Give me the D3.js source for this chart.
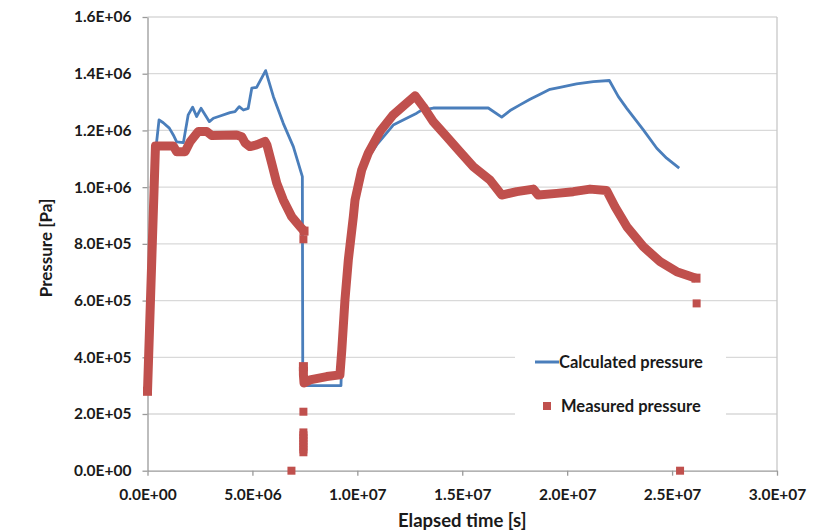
<!DOCTYPE html>
<html>
<head>
<meta charset="utf-8">
<script src="https://cdn.jsdelivr.net/npm/d3@7"></script>
<style>
  html, body { margin: 0; padding: 0; background: #ffffff; }
  svg { display: block; }
  text { font-family: Lato, "Liberation Sans", sans-serif; font-weight: bold; fill: #1a1a1a; }
</style>
</head>
<body>
<svg id="chart" width="814" height="531"></svg>
<script>
// ---- Data (time in seconds, pressure in Pa) ----
const calcTime = [0, 0.41e6, 0.55e6, 0.75e6, 1.04e6, 1.23e6, 1.39e6, 1.71e6, 1.94e6, 2.15e6, 2.34e6, 2.55e6, 2.95e6, 3.14e6, 3.46e6, 3.93e6, 4.17e6, 4.37e6, 4.57e6, 4.80e6, 4.97e6, 5.20e6, 5.63e6, 6.00e6, 6.47e6, 6.95e6, 7.38e6, 7.40e6, 9.22e6, 9.27e6, 9.41e6, 9.57e6, 9.81e6, 10.13e6, 10.51e6, 10.92e6, 11.71e6, 12.35e6, 12.83e6, 13.07e6, 13.62e6, 16.24e6, 16.88e6, 17.28e6, 17.75e6, 18.23e6, 18.71e6, 19.18e6, 19.66e6, 20.45e6, 21.25e6, 22.01e6, 22.44e6, 22.84e6, 23.63e6, 24.27e6, 24.74e6, 25.34e6];
const calcPressure = [2.80e5, 11.43e5, 12.37e5, 12.27e5, 12.08e5, 11.84e5, 11.60e5, 11.57e5, 12.55e5, 12.82e5, 12.49e5, 12.78e5, 12.31e5, 12.43e5, 12.51e5, 12.63e5, 12.66e5, 12.84e5, 12.72e5, 12.78e5, 13.49e5, 13.52e5, 14.11e5, 13.19e5, 12.25e5, 11.43e5, 10.37e5, 3.00e5, 3.00e5, 4.26e5, 6.02e5, 7.43e5, 8.96e5, 10.14e5, 11.03e5, 11.49e5, 12.19e5, 12.43e5, 12.61e5, 12.72e5, 12.79e5, 12.79e5, 12.47e5, 12.70e5, 12.90e5, 13.10e5, 13.28e5, 13.45e5, 13.52e5, 13.64e5, 13.72e5, 13.76e5, 13.19e5, 12.78e5, 12.02e5, 11.37e5, 11.02e5, 10.67e5];

// Measured pressure: first continuous run
const measTimeA = [0, 0.38e6, 1.23e6, 1.39e6, 1.79e6, 2.03e6, 2.42e6, 2.82e6, 3.06e6, 4.25e6, 4.49e6, 4.65e6, 4.88e6, 5.20e6, 5.60e6, 5.69e6, 5.92e6, 6.16e6, 6.47e6, 6.87e6, 7.27e6, 7.46e6];
const measPressureA = [2.80e5, 11.45e5, 11.45e5, 11.25e5, 11.25e5, 11.60e5, 11.96e5, 11.96e5, 11.82e5, 11.84e5, 11.78e5, 11.56e5, 11.43e5, 11.49e5, 11.61e5, 11.49e5, 10.84e5, 10.14e5, 9.55e5, 8.96e5, 8.61e5, 8.45e5];
// Measured pressure: second continuous run
const measTimeB = [7.43e6, 7.43e6, 7.46e6, 7.74e6, 8.54e6, 9.17e6, 9.26e6, 9.41e6, 9.57e6, 9.81e6, 9.89e6, 10.21e6, 10.52e6, 11.08e6, 11.71e6, 12.35e6, 12.75e6, 13.14e6, 13.62e6, 14.26e6, 14.89e6, 15.53e6, 16.32e6, 16.88e6, 17.60e6, 18.39e6, 18.62e6, 19.50e6, 20.29e6, 21.09e6, 21.88e6, 22.28e6, 22.84e6, 23.63e6, 24.43e6, 25.22e6, 26.14e6];
const measPressureB = [3.67e5, 3.38e5, 3.09e5, 3.20e5, 3.32e5, 3.38e5, 4.26e5, 6.02e5, 7.43e5, 8.96e5, 9.55e5, 10.61e5, 11.20e5, 11.96e5, 12.55e5, 12.96e5, 13.22e5, 12.84e5, 12.31e5, 11.78e5, 11.25e5, 10.72e5, 10.25e5, 9.72e5, 9.84e5, 9.93e5, 9.72e5, 9.78e5, 9.84e5, 9.93e5, 9.88e5, 9.31e5, 8.61e5, 7.90e5, 7.37e5, 7.02e5, 6.79e5];
// Measured pressure: isolated points
const measTimeIso = [7.43e6, 6.86e6, 7.43e6, 7.43e6, 7.43e6, 7.43e6, 7.43e6, 7.43e6, 7.43e6, 7.43e6, 7.43e6, 25.38e6, 26.17e6];
const measPressureIso = [8.16e5, 0, 2.08e5, 1.35e5, 1.25e5, 1.15e5, 1.05e5, 0.95e5, 0.85e5, 0.75e5, 0.65e5, 0, 5.90e5];

const xTicks = [0, 5e6, 10e6, 15e6, 20e6, 25e6, 30e6];
const xTickLabels = ["0.0E+00", "5.0E+06", "1.0E+07", "1.5E+07", "2.0E+07", "2.5E+07", "3.0E+07"];
const yTicks = [0, 2e5, 4e5, 6e5, 8e5, 10e5, 12e5, 14e5, 16e5];
const yTickLabels = ["0.0E+00", "2.0E+05", "4.0E+05", "6.0E+05", "8.0E+05", "1.0E+06", "1.2E+06", "1.4E+06", "1.6E+06"];
const seriesNames = ["Calculated pressure", "Measured pressure"];
const axisTitles = { x: "Elapsed time [s]", y: "Pressure [Pa]" };

// ---- Layout ----
const plot = { left: 147.5, right: 777, top: 17, bottom: 470.7 };
const blue = "#4A7EBB", red = "#C0504D";
const FONT = "Lato, 'Liberation Sans', sans-serif";

const svg = d3.select("#chart");
const x = d3.scaleLinear().domain([0, 3e7]).range([plot.left, plot.right]);
const y = d3.scaleLinear().domain([0, 1.6e6]).range([plot.bottom, plot.top]);

// gridlines
svg.append("g").selectAll("line").data(yTicks.slice(1)).join("line")
  .attr("x1", plot.left).attr("x2", plot.right)
  .attr("y1", d => y(d)).attr("y2", d => y(d))
  .attr("stroke", "#d9d9d9").attr("stroke-width", 1.3);
// right border
svg.append("line").attr("x1", plot.right).attr("x2", plot.right)
  .attr("y1", plot.top).attr("y2", plot.bottom)
  .attr("stroke", "#c8c8c8").attr("stroke-width", 1.3);

// Axes
const xAxis = d3.axisBottom(x).tickValues(xTicks).tickSize(5).tickSizeOuter(0)
  .tickFormat((d, i) => xTickLabels[i]);
const gx = svg.append("g").attr("transform", `translate(0,${plot.bottom})`).call(xAxis);
gx.select(".domain").attr("stroke", "#9a9a9a").attr("stroke-width", 1.3);
gx.selectAll(".tick line").attr("stroke", "#9a9a9a").attr("stroke-width", 1.3);
gx.selectAll(".tick text").attr("dy", null).attr("y", 29)
  .style("font-family", FONT).style("font-weight", "bold")
  .style("font-size", "15.5px").attr("fill", "#1a1a1a");

const yAxis = d3.axisLeft(y).tickValues(yTicks).tickSize(5).tickSizeOuter(0)
  .tickFormat((d, i) => yTickLabels[i]);
const gy = svg.append("g").attr("transform", `translate(${plot.left},0)`).call(yAxis);
gy.select(".domain").attr("stroke", "#9a9a9a").attr("stroke-width", 1.3);
gy.selectAll(".tick line").attr("stroke", "#9a9a9a").attr("stroke-width", 1.3);
gy.selectAll(".tick text").attr("x", -16)
  .style("font-family", FONT).style("font-weight", "bold")
  .style("font-size", "15.5px").attr("fill", "#1a1a1a");

// Axis titles
svg.append("text").attr("x", (plot.left + plot.right) / 2).attr("y", 526.5)
  .attr("text-anchor", "middle").style("font-size", "18.5px").text(axisTitles.x);
svg.append("text").attr("transform", `translate(52,248) rotate(-90)`)
  .attr("text-anchor", "middle").style("font-size", "17px").text(axisTitles.y);

// ---- Series ----
const line = d3.line().x(d => x(d[0])).y(d => y(d[1]));
const segA = measTimeA.map((t, i) => [t, measPressureA[i]]);
const segB = measTimeB.map((t, i) => [t, measPressureB[i]]);
const iso = measTimeIso.map((t, i) => [t, measPressureIso[i]]);
const calc = calcTime.map((t, i) => [t, calcPressure[i]]);

// calculated (drawn first, measured drawn over)
svg.append("path").datum(calc).attr("d", line)
  .attr("fill", "none").attr("stroke", blue).attr("stroke-width", 2.8)
  .attr("stroke-linejoin", "round");

const mg = svg.append("g");
[segA, segB].forEach(seg => {
  mg.append("path").datum(seg).attr("d", line)
    .attr("fill", "none").attr("stroke", red).attr("stroke-width", 9)
    .attr("stroke-linejoin", "round").attr("stroke-linecap", "butt");
  mg.selectAll(null).data([seg[0], seg[seg.length - 1]]).join("rect")
    .attr("x", d => x(d[0]) - 4.5).attr("y", d => y(d[1]) - 4.5)
    .attr("width", 9).attr("height", 9).attr("fill", red);
});
mg.selectAll(null).data(iso).join("rect")
  .attr("x", d => x(d[0]) - 4).attr("y", d => y(d[1]) - 4)
  .attr("width", 8).attr("height", 8).attr("fill", red);

// ---- Legend ----
const lg = svg.append("g");
lg.append("rect").attr("x", 515).attr("y", 342).attr("width", 211).attr("height", 84).attr("fill", "#ffffff");
lg.append("line").attr("x1", 535).attr("x2", 559).attr("y1", 362).attr("y2", 362)
  .attr("stroke", blue).attr("stroke-width", 3);
lg.append("text").attr("x", 559).attr("y", 368).style("font-size", "16.5px").text(seriesNames[0]);
lg.append("rect").attr("x", 543).attr("y", 402).attr("width", 8).attr("height", 8).attr("fill", red);
lg.append("text").attr("x", 561).attr("y", 412).style("font-size", "16.5px").text(seriesNames[1]);
</script>
</body>
</html>
